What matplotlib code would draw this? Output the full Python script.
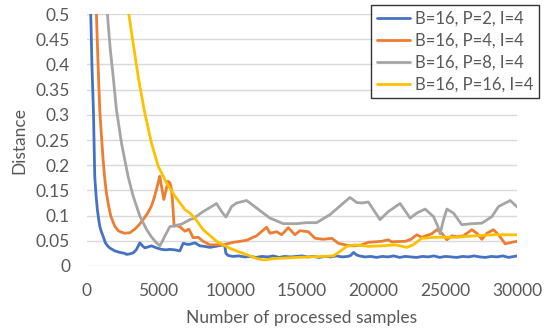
import matplotlib.pyplot as plt
from matplotlib.ticker import FuncFormatter

# 读图估计的数据 (samples, distance)
x_p2 = [0, 150, 280, 370, 465, 558, 650, 740, 820, 907, 1020, 1140, 1300, 1450, 1600, 1950,
        2300, 2650, 2770, 3000, 3230, 3450, 3700, 3880, 4050, 4300, 4510, 4850, 5210, 5500,
        5800, 6140, 6490, 6720, 7000, 7186, 7535, 7890, 8200, 8580, 9000, 9515, 9620, 9700,
        9850, 9980,
        10200, 10600, 11000, 11400, 11800, 12200, 12600, 13000, 13400, 13800, 14200, 14600,
        15000, 15400, 15800, 16200, 16600, 17000, 17400, 17800, 18200, 18400, 18600, 18800,
        19000, 19400, 19800, 20200, 20600, 21000, 21400, 21800, 22200, 22600, 23000, 23400,
        23800, 24200, 24600, 25000, 25400, 25800, 26200, 26600, 27000, 27400, 27800, 28200,
        28600, 29000, 29400, 29800, 30000]
y_p2 = [1.4, 0.8, 0.5, 0.39, 0.31, 0.178, 0.14, 0.112, 0.095, 0.079, 0.068, 0.059, 0.046,
        0.040, 0.036, 0.030, 0.027, 0.025, 0.023, 0.024, 0.026, 0.032, 0.046, 0.040, 0.036,
        0.038, 0.040, 0.036, 0.033, 0.032, 0.033, 0.032, 0.030, 0.045, 0.043, 0.043, 0.046,
        0.040, 0.039, 0.037, 0.039, 0.042, 0.040, 0.025, 0.021, 0.020,
        0.019, 0.020, 0.018, 0.019, 0.017, 0.019, 0.018, 0.020, 0.017, 0.019, 0.018, 0.019,
        0.020, 0.018, 0.019, 0.017, 0.019, 0.018, 0.020, 0.018, 0.019, 0.021, 0.027, 0.022,
        0.020, 0.018, 0.019, 0.017, 0.019, 0.018, 0.020, 0.017, 0.019, 0.018, 0.017, 0.019,
        0.018, 0.020, 0.017, 0.019, 0.018, 0.017, 0.019, 0.018, 0.020, 0.018, 0.017, 0.019,
        0.018, 0.020, 0.017, 0.019, 0.020]

x_p4 = [0, 400, 675, 790, 907, 1020, 1140, 1250, 1370, 1520, 1675, 1950, 2200, 2420, 2650,
        3000, 3350, 3650, 3930, 4250, 4510, 4700, 4860, 5000, 5090, 5200, 5370, 5520, 5670,
        5800, 5910, 6000, 6090, 6250, 6490, 6840, 7120, 7420, 7770, 8116, 8580, 9515, 10210,
        11140, 11840, 12540, 12770, 13240, 13580, 14050, 14510, 14860, 15450, 15910, 16490,
        17080, 17540, 18350, 18700, 19160, 19630, 20560, 21020, 21250, 22200, 22600, 23000,
        23350, 24050, 24400, 24750, 25100, 25450, 25800, 26260, 26840, 27190, 27540, 27890,
        28350, 28700, 29170, 29630, 30000]
y_p4 = [1.3, 0.75, 0.5, 0.40, 0.31, 0.26, 0.211, 0.175, 0.145, 0.12, 0.099, 0.079, 0.070,
        0.067, 0.065, 0.066, 0.073, 0.082, 0.092, 0.105, 0.119, 0.135, 0.152, 0.168, 0.178,
        0.160, 0.132, 0.150, 0.168, 0.165, 0.152, 0.120, 0.079, 0.080, 0.078, 0.069, 0.073,
        0.056, 0.057, 0.049, 0.042, 0.042, 0.047, 0.051, 0.060, 0.077, 0.065, 0.068, 0.062,
        0.076, 0.062, 0.070, 0.068, 0.055, 0.053, 0.055, 0.045, 0.040, 0.040, 0.042, 0.047,
        0.049, 0.052, 0.048, 0.049, 0.053, 0.062, 0.057, 0.064, 0.072, 0.065, 0.052, 0.060,
        0.058, 0.060, 0.072, 0.065, 0.053, 0.065, 0.072, 0.062, 0.044, 0.047, 0.049]

x_p8 = [0, 900, 1440, 1640, 1840, 2070, 2420, 2880, 3230, 3700, 4160, 4500, 4860, 5090, 5250,
        5440, 5790, 6610, 7186, 7420, 8116, 9050, 9400, 9700, 10100, 10440, 11140, 11840,
        12770, 13700, 14630, 15330, 16030, 16960, 17890, 18350, 18820, 19160, 19630, 20440,
        21020, 21840, 22540, 23000, 23580, 24170, 24450, 24630, 24850, 25100, 25560, 26140,
        26840, 27540, 28240, 28700, 29520, 30000]
y_p8 = [1.3, 0.8, 0.5, 0.43, 0.377, 0.310, 0.244, 0.178, 0.139, 0.099, 0.073, 0.058, 0.046,
        0.040, 0.048, 0.059, 0.078, 0.083, 0.092, 0.094, 0.108, 0.124, 0.108, 0.097, 0.118,
        0.125, 0.130, 0.115, 0.095, 0.084, 0.084, 0.086, 0.086, 0.102, 0.125, 0.136, 0.126,
        0.125, 0.127, 0.092, 0.108, 0.124, 0.095, 0.105, 0.113, 0.098, 0.080, 0.064, 0.090,
        0.113, 0.105, 0.082, 0.084, 0.085, 0.098, 0.118, 0.130, 0.117]

x_p16 = [0, 2000, 2930, 3230, 3580, 4000, 4510, 4980, 5560, 6140, 6840, 7186, 7535, 8116, 9050,
         9980, 10910, 11840, 12300, 13240, 14630, 16490, 17190, 17660, 18120, 18700, 19630,
         20560, 21490, 22310, 22750, 23350, 24280, 25680, 27070, 28470, 30000]
y_p16 = [1.2, 0.75, 0.5, 0.443, 0.377, 0.310, 0.244, 0.198, 0.165, 0.139, 0.112, 0.105, 0.095,
         0.072, 0.049, 0.035, 0.025, 0.015, 0.012, 0.015, 0.017, 0.019, 0.020, 0.029, 0.039,
         0.042, 0.039, 0.040, 0.042, 0.037, 0.042, 0.055, 0.057, 0.057, 0.060, 0.062, 0.062]

labels = ["B=16, P=2, I=4", "B=16, P=4, I=4", "B=16, P=8, I=4", "B=16, P=16, I=4"]
colors = ["#4472C4", "#ED7D31", "#A5A5A5", "#FFC000"]

plt.rcParams['font.family'] = ['Lato', 'DejaVu Sans']

fig = plt.figure(figsize=(5.49, 3.35), dpi=100)
ax = fig.add_axes([0.158, 0.206, 0.784, 0.752])

series = [(x_p2, y_p2), (x_p4, y_p4), (x_p8, y_p8), (x_p16, y_p16)]
for (xs, ys), lab, c in zip(series, labels, colors):
    ax.plot(xs, ys, color=c, lw=2, label=lab, solid_joinstyle='round',
            solid_capstyle='round')

ax.set_xlim(0, 30000)
ax.set_ylim(0, 0.5)
ax.set_xticks(range(0, 30001, 5000))
ax.set_yticks([i * 0.05 for i in range(11)])
ax.yaxis.set_major_formatter(FuncFormatter(lambda v, p: f"{round(v, 2):g}"))
ax.grid(axis='y', color='#D9D9D9', lw=1)
ax.set_axisbelow(True)
for s in ax.spines.values():
    s.set_visible(False)
ax.tick_params(length=0, labelsize=12.5, colors='#595959')
ax.tick_params(axis='y', pad=12)
ax.tick_params(axis='x', pad=12)
ax.set_xlabel("Number of processed samples", fontsize=12.5, color='#595959', labelpad=8)
ax.set_ylabel("Distance", fontsize=12.5, color='#595959', labelpad=6)

leg = fig.legend(loc='upper right', bbox_to_anchor=(0.982, 0.985), fontsize=12,
                 frameon=True, fancybox=False, handlelength=2.0, borderpad=0.35,
                 labelspacing=0.35, handletextpad=0.3, borderaxespad=0)
leg.get_frame().set_edgecolor('black')
leg.get_frame().set_linewidth(1)
for t in leg.get_texts():
    t.set_color('#595959')

fig.savefig("out.png", dpi=100)
